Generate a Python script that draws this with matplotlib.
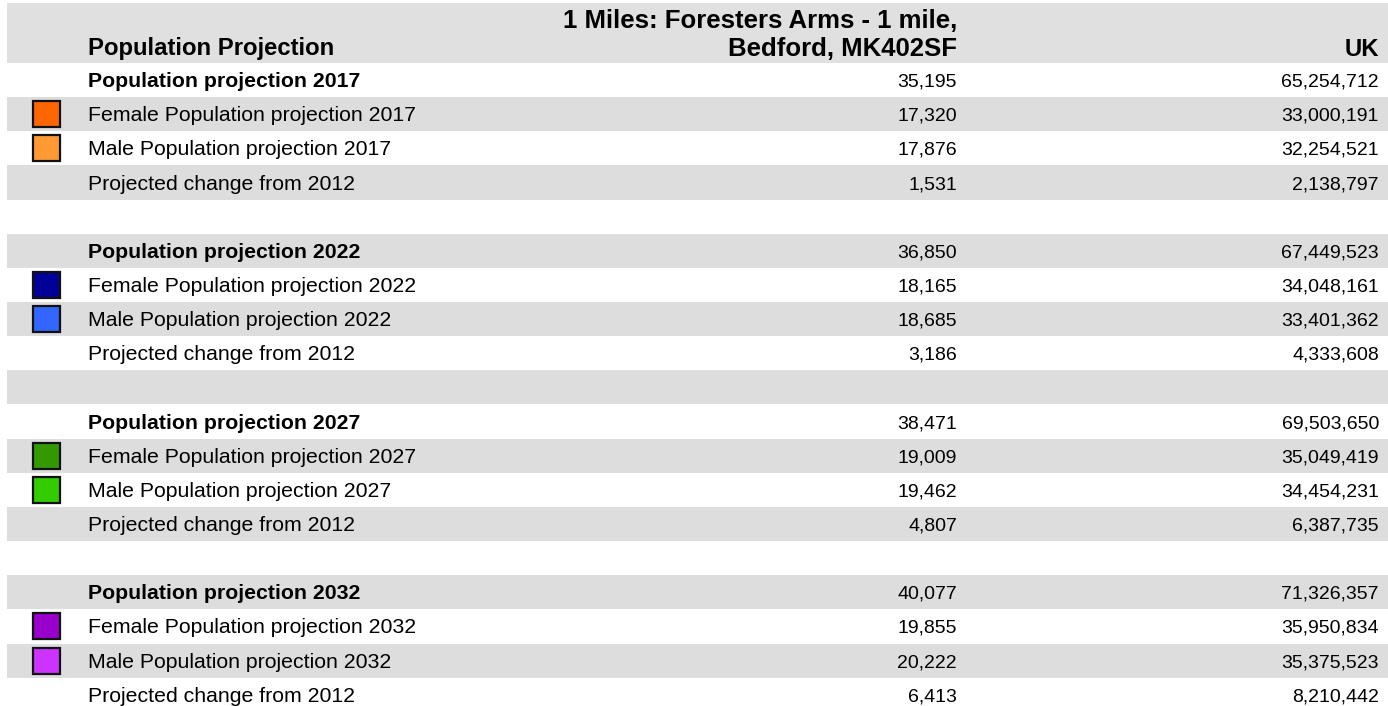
import matplotlib
matplotlib.use('Agg')
import matplotlib.pyplot as plt
from matplotlib.patches import Rectangle

plt.rcParams['font.family'] = ['Liberation Sans', 'DejaVu Sans']

col_title = 'Population Projection'
col_local = ['1 Miles: Foresters Arms - 1 mile,', 'Bedford, MK402SF']
col_uk = 'UK'

labels = [
    'Population projection 2017', 'Female Population projection 2017',
    'Male Population projection 2017', 'Projected change from 2012', '',
    'Population projection 2022', 'Female Population projection 2022',
    'Male Population projection 2022', 'Projected change from 2012', '',
    'Population projection 2027', 'Female Population projection 2027',
    'Male Population projection 2027', 'Projected change from 2012', '',
    'Population projection 2032', 'Female Population projection 2032',
    'Male Population projection 2032', 'Projected change from 2012',
]
local_vals = [35195, 17320, 17876, 1531, None,
              36850, 18165, 18685, 3186, None,
              38471, 19009, 19462, 4807, None,
              40077, 19855, 20222, 6413]
uk_vals = [65254712, 33000191, 32254521, 2138797, None,
           67449523, 34048161, 33401362, 4333608, None,
           69503650, 35049419, 34454231, 6387735, None,
           71326357, 35950834, 35375523, 8210442]
swatches = [None, '#ff6600', '#ff9933', None, None,
            None, '#000099', '#3366ff', None, None,
            None, '#339900', '#33cc00', None, None,
            None, '#9900cc', '#cc33ff', None]
bold_rows = [0, 5, 10, 15]

W, H = 1388, 706
fig = plt.figure(figsize=(W / 100, H / 100), dpi=100)
ax = fig.add_axes([0, 0, 1, 1])
ax.set_xlim(0, W)
ax.set_ylim(H, 0)
ax.axis('off')

left, right = 7, 1388
x_text = 88
x_local = 957
x_uk = 1379
fs_head = 17.2
fs_col = 18.5
fs_row = 15.3
fs_num = 14

# header band
ax.add_patch(Rectangle((left, 3), right - left, 60, facecolor='#e0e0e0', edgecolor='none'))
ax.text(x_text, 55, col_title, fontsize=fs_head, fontweight='bold', va='baseline', ha='left')
ax.text(x_local, 28, col_local[0], fontsize=fs_col, fontweight='bold', va='baseline', ha='right')
ax.text(x_local, 56, col_local[1], fontsize=fs_col, fontweight='bold', va='baseline', ha='right')
ax.text(x_uk, 56, col_uk, fontsize=fs_head, fontweight='bold', va='baseline', ha='right')

top = 63
rh = 34.15
for i, lab in enumerate(labels):
    y0 = top + i * rh
    yc = y0 + rh / 2
    if i % 2 == 1:
        ax.add_patch(Rectangle((left, y0), right - left, rh, facecolor='#dddddd', edgecolor='none'))
    if swatches[i]:
        ax.add_patch(Rectangle((33, yc - 13), 27, 26, facecolor=swatches[i],
                               edgecolor='#111111', linewidth=1.6))
    if not lab:
        continue
    w = 'bold' if i in bold_rows else 'normal'
    ax.text(x_text, yc + 7, lab, fontsize=fs_row, fontweight=w, va='baseline', ha='left')
    ax.text(x_local, yc + 6.5, f'{local_vals[i]:,}', fontsize=fs_num, va='baseline', ha='right')
    ax.text(x_uk, yc + 6.5, f'{uk_vals[i]:,}', fontsize=fs_num, va='baseline', ha='right')

fig.savefig('out.png', dpi=100)
